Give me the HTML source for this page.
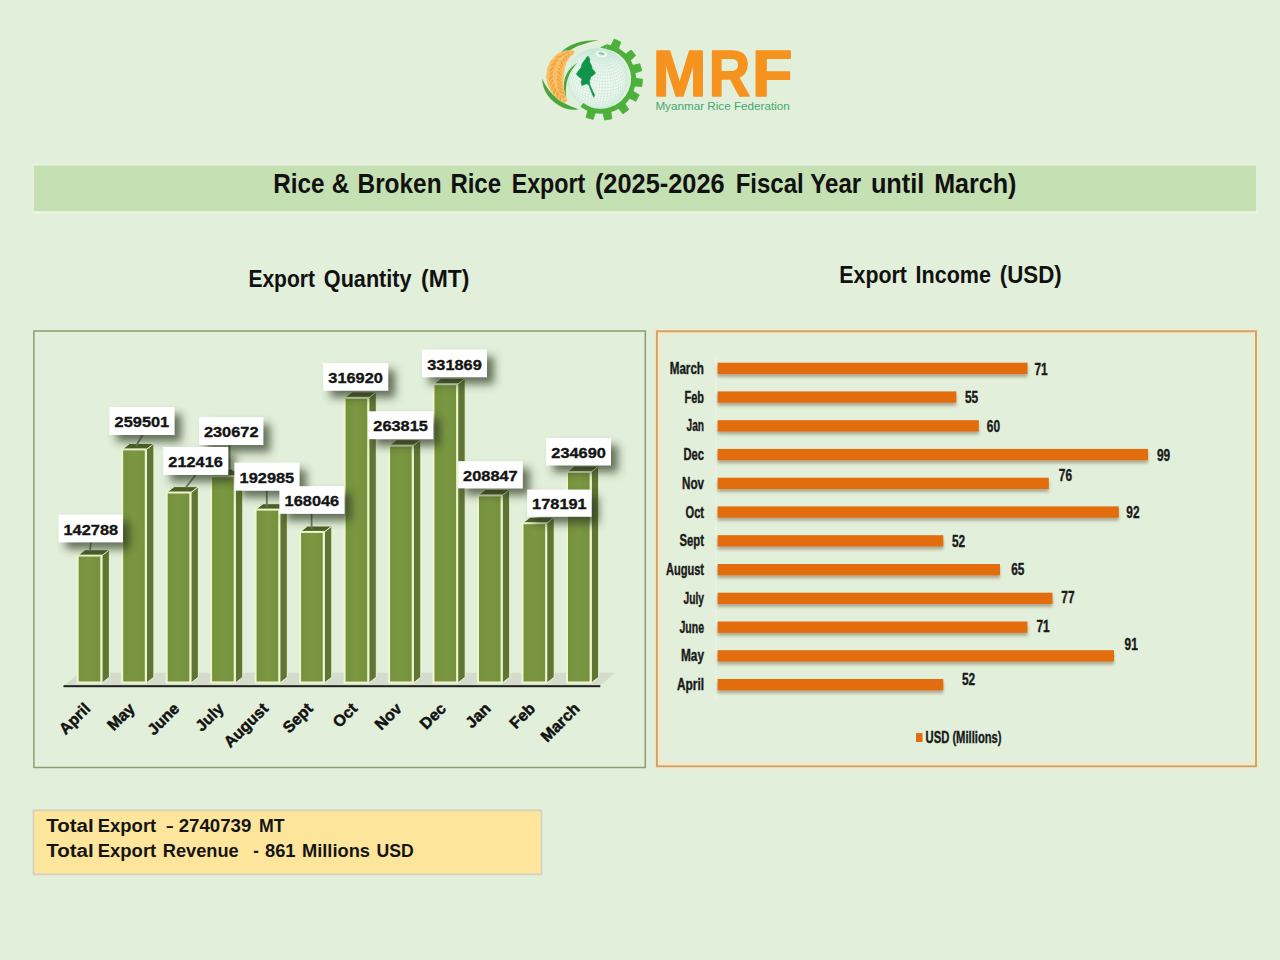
<!DOCTYPE html>
<html><head><meta charset="utf-8"><title>MRF Rice Export</title>
<style>
html,body{margin:0;padding:0;background:#e2efda;}
body{width:1280px;height:960px;overflow:hidden;font-family:"Liberation Sans",sans-serif;}
svg{display:block}
text{font-family:"Liberation Sans",sans-serif;}
</style></head><body>
<svg width="1280" height="960" viewBox="0 0 1280 960">
<defs>
<filter id="ls" x="-30%" y="-50%" width="170%" height="220%">
  <feGaussianBlur in="SourceAlpha" stdDeviation="4.1"/>
  <feOffset dx="7" dy="6.8" result="o"/>
  <feFlood flood-color="#2e3b22" flood-opacity="0.7"/>
  <feComposite in2="o" operator="in"/>
  <feMerge><feMergeNode/><feMergeNode in="SourceGraphic"/></feMerge>
</filter>
<filter id="bs" x="-5%" y="-80%" width="110%" height="300%">
  <feGaussianBlur in="SourceAlpha" stdDeviation="1.6"/>
  <feOffset dx="0" dy="2.5" result="o"/>
  <feFlood flood-color="#6b5a3a" flood-opacity="0.45"/>
  <feComposite in2="o" operator="in"/>
  <feMerge><feMergeNode/><feMergeNode in="SourceGraphic"/></feMerge>
</filter>
<filter id="fb" x="-2%" y="-20%" width="104%" height="140%"><feGaussianBlur stdDeviation="0.7"/></filter>
<filter id="glow" x="-5%" y="-5%" width="110%" height="110%">
  <feGaussianBlur stdDeviation="1.2"/>
</filter>
<linearGradient id="gf" x1="0" x2="1" y1="0" y2="0">
  <stop offset="0" stop-color="#75913b"/><stop offset="0.5" stop-color="#7c9742"/><stop offset="1" stop-color="#75913b"/>
</linearGradient>
<clipPath id="globeclip"><circle cx="598" cy="78.5" r="29.5"/></clipPath>
</defs>
<rect x="0" y="0" width="1280" height="960" fill="#e2efda"/>

<g id="logo">
<circle cx="597.5" cy="78.4" r="30.6" fill="#f3faf4"/>
<clipPath id="gc"><circle cx="597.5" cy="78.4" r="30.6"/></clipPath>
<g clip-path="url(#gc)" fill="none" stroke="#bfe2cf" stroke-width="0.5">
<polyline points="586.7,107.0 589.1,107.8 591.5,108.4 594.0,108.8 596.4,109.0 598.9,109.0"/>
<polyline points="581.2,104.3 583.5,105.5 585.9,106.6 588.6,107.5 591.3,108.1 594.2,108.6 597.0,108.8 599.8,108.8 602.5,108.5 605.0,108.1"/>
<polyline points="575.9,100.1 577.8,101.8 580.0,103.3 582.5,104.7 585.3,105.9 588.2,106.8 591.3,107.6 594.4,108.1 597.6,108.3 600.6,108.3 603.6,108.0 606.4,107.5 609.0,106.7 611.3,105.7"/>
<polyline points="572.9,96.6 574.6,98.5 576.6,100.4 579.0,102.0 581.8,103.5 584.7,104.8 587.9,105.9 591.3,106.7 594.7,107.2 598.1,107.5 601.5,107.5 604.7,107.2 607.8,106.6 610.6,105.7 613.1,104.6 615.3,103.3"/>
<polyline points="571.7,94.7 573.4,96.8 575.6,98.7 578.2,100.5 581.2,102.1 584.4,103.5 587.8,104.6 591.3,105.5 595.0,106.0 598.7,106.3 602.3,106.3 605.7,106.0 609.0,105.4 612.0,104.5 614.7,103.3 617.0,101.9"/>
<polyline points="569.4,90.3 570.7,92.6 572.6,94.8 574.9,96.8 577.6,98.7 580.7,100.4 584.1,101.9 587.7,103.1 591.5,104.0 595.3,104.6 599.2,104.9 603.0,104.8 606.7,104.5 610.1,103.9 613.3,102.9 616.1,101.7 618.6,100.2 620.6,98.5"/>
<polyline points="567.8,85.6 568.7,88.0 570.1,90.4 572.0,92.6 574.4,94.7 577.3,96.7 580.5,98.5 584.0,100.0 587.8,101.2 591.7,102.2 595.7,102.8 599.7,103.1 603.7,103.1 607.5,102.7 611.1,102.1 614.4,101.1 617.3,99.8 619.9,98.2 622.0,96.4 623.5,94.5"/>
<polyline points="567.4,83.1 568.3,85.6 569.7,88.0 571.7,90.3 574.2,92.5 577.1,94.5 580.4,96.3 584.0,97.9 587.9,99.2 591.9,100.1 596.1,100.8 600.2,101.1 604.3,101.1 608.2,100.7 611.9,100.0 615.3,99.0 618.3,97.7 620.9,96.1 623.1,94.2 624.7,92.2"/>
<polyline points="566.9,78.1 567.3,80.5 568.2,83.0 569.7,85.5 571.7,87.9 574.2,90.1 577.2,92.1 580.6,94.0 584.2,95.6 588.2,96.9 592.3,97.9 596.5,98.5 600.7,98.8 604.8,98.8 608.8,98.4 612.5,97.7 616.0,96.7 619.1,95.4 621.8,93.7 623.9,91.9 625.6,89.8 626.7,87.5"/>
<polyline points="567.2,75.5 567.5,77.9 568.4,80.5 570.0,82.9 572.0,85.3 574.5,87.5 577.5,89.6 580.9,91.5 584.6,93.1 588.5,94.4 592.7,95.4 596.9,96.0 601.1,96.4 605.3,96.3 609.3,96.0 613.0,95.2 616.5,94.2 619.6,92.8 622.3,91.2 624.5,89.3 626.2,87.2 627.3,85.0"/>
<polyline points="568.0,70.5 567.7,72.9 568.1,75.4 569.0,77.9 570.5,80.3 572.5,82.7 575.1,84.9 578.0,87.0 581.4,88.8 585.1,90.4 589.0,91.7 593.1,92.7 597.3,93.3 601.5,93.7 605.6,93.6 609.6,93.3 613.4,92.6 616.8,91.5 619.9,90.2 622.6,88.6 624.8,86.7 626.4,84.6 627.5,82.3 628.0,80.0"/>
<polyline points="569.7,65.7 568.9,68.0 568.6,70.4 569.0,72.8 569.9,75.3 571.4,77.7 573.4,80.0 575.8,82.2 578.8,84.2 582.1,86.0 585.7,87.6 589.5,88.9 593.6,89.8 597.7,90.5 601.8,90.8 605.9,90.8 609.8,90.4 613.5,89.7 616.9,88.7 620.0,87.4 622.6,85.8 624.7,83.9 626.4,81.9 627.4,79.7 628.0,77.3 627.9,74.9"/>
<polyline points="570.9,63.4 570.1,65.6 569.9,67.9 570.2,70.3 571.1,72.7 572.5,75.1 574.5,77.3 576.9,79.4 579.7,81.4 582.9,83.2 586.4,84.7 590.2,85.9 594.1,86.9 598.1,87.5 602.1,87.8 606.1,87.8 609.9,87.4 613.5,86.8 616.8,85.8 619.8,84.5 622.3,82.9 624.4,81.1 626.0,79.2 627.0,77.0 627.5,74.7 627.5,72.4"/>
<polyline points="573.6,59.3 572.3,61.3 571.6,63.4 571.4,65.6 571.7,67.9 572.6,70.2 573.9,72.5 575.8,74.6 578.1,76.7 580.8,78.6 583.9,80.3 587.3,81.7 590.9,82.9 594.7,83.8 598.5,84.4 602.4,84.7 606.2,84.7 609.8,84.4 613.3,83.7 616.5,82.8 619.3,81.5 621.8,80.0 623.8,78.3 625.3,76.4 626.3,74.3 626.8,72.1 626.7,69.9 626.1,67.6"/>
<polyline points="575.3,57.4 574.1,59.3 573.4,61.4 573.2,63.5 573.5,65.6 574.3,67.8 575.6,69.9 577.4,72.0 579.6,73.9 582.2,75.7 585.1,77.3 588.3,78.7 591.7,79.8 595.3,80.7 598.9,81.3 602.6,81.6 606.2,81.5 609.6,81.2 612.9,80.6 615.9,79.7 618.6,78.5 620.9,77.1 622.8,75.5 624.3,73.7 625.2,71.7 625.7,69.6 625.6,67.5 625.1,65.3"/>
<polyline points="578.8,54.2 577.2,55.8 576.1,57.6 575.4,59.5 575.3,61.5 575.5,63.5 576.3,65.5 577.5,67.5 579.2,69.4 581.2,71.2 583.6,72.9 586.4,74.4 589.4,75.7 592.5,76.8 595.9,77.6 599.3,78.1 602.7,78.4 606.1,78.4 609.3,78.0 612.4,77.5 615.2,76.6 617.7,75.5 619.9,74.2 621.6,72.7 623.0,71.0 623.9,69.2 624.3,67.2 624.3,65.2 623.7,63.2 622.8,61.2"/>
<polyline points="582.6,51.7 580.8,53.0 579.4,54.5 578.4,56.1 577.7,57.8 577.6,59.6 577.8,61.5 578.5,63.4 579.7,65.2 581.2,67.0 583.1,68.6 585.3,70.2 587.8,71.5 590.5,72.7 593.5,73.7 596.5,74.4 599.7,74.9 602.8,75.2 605.9,75.2 608.9,74.9 611.7,74.3 614.3,73.6 616.6,72.6 618.6,71.4 620.2,70.0 621.4,68.4 622.2,66.7 622.6,64.9 622.6,63.1 622.1,61.2 621.2,59.4 619.9,57.6"/>
<polyline points="588.8,49.1 586.6,49.9 584.7,50.9 583.0,52.0 581.7,53.4 580.8,54.8 580.3,56.4 580.1,58.0 580.3,59.7 581.0,61.4 582.0,63.0 583.3,64.6 585.0,66.1 587.0,67.5 589.3,68.7 591.8,69.8 594.4,70.7 597.2,71.3 600.0,71.8 602.8,72.0 605.6,72.0 608.3,71.7 610.8,71.3 613.1,70.6 615.2,69.7 617.0,68.6 618.5,67.3 619.6,65.9 620.3,64.4 620.7,62.8 620.6,61.1 620.2,59.5 619.4,57.8 618.2,56.2 616.7,54.6 614.8,53.2"/>
<polyline points="602.3,48.2 599.8,47.9 597.3,47.8 594.9,47.9 592.6,48.2 590.5,48.8 588.6,49.5 586.8,50.3 585.4,51.4 584.3,52.5 583.5,53.8 583.0,55.2 582.8,56.6 583.0,58.1 583.6,59.6 584.5,61.0 585.7,62.4 587.2,63.7 588.9,65.0 590.9,66.0 593.1,67.0 595.4,67.8 597.8,68.3 600.3,68.7 602.8,68.9 605.2,68.9 607.6,68.7 609.8,68.3 611.9,67.7 613.7,66.9 615.3,65.9 616.5,64.8 617.5,63.6 618.2,62.2 618.5,60.8 618.4,59.4 618.1,57.9 617.3,56.4 616.3,55.0 615.0,53.6 613.3,52.4 611.5,51.2 609.4,50.2 607.1,49.4 604.7,48.7 602.3,48.2"/>
<polyline points="602.3,48.3 600.2,48.0 598.1,48.0 596.0,48.1 594.1,48.3 592.2,48.8 590.6,49.4 589.1,50.1 587.9,51.0 586.9,52.0 586.3,53.1 585.8,54.3 585.7,55.5 585.9,56.7 586.4,58.0 587.1,59.2 588.1,60.4 589.4,61.5 590.9,62.6 592.6,63.5 594.4,64.3 596.4,64.9 598.5,65.4 600.6,65.8 602.7,65.9 604.8,65.9 606.8,65.7 608.7,65.4 610.4,64.9 612.0,64.2 613.3,63.4 614.4,62.4 615.2,61.4 615.8,60.2 616.0,59.0 616.0,57.8 615.7,56.6 615.1,55.3 614.2,54.1 613.0,52.9 611.7,51.9 610.1,50.9 608.3,50.0 606.4,49.3 604.4,48.7 602.3,48.3"/>
<polyline points="602.2,48.7 600.5,48.5 598.8,48.5 597.1,48.5 595.5,48.8 594.0,49.1 592.7,49.6 591.5,50.2 590.5,50.9 589.7,51.8 589.2,52.6 588.8,53.6 588.7,54.6 588.9,55.6 589.3,56.6 589.9,57.6 590.7,58.6 591.7,59.5 593.0,60.3 594.3,61.1 595.8,61.7 597.4,62.3 599.1,62.7 600.8,63.0 602.5,63.1 604.2,63.1 605.9,62.9 607.4,62.6 608.8,62.2 610.1,61.7 611.2,61.0 612.1,60.2 612.7,59.4 613.2,58.5 613.4,57.5 613.4,56.5 613.1,55.5 612.6,54.4 611.9,53.5 611.0,52.5 609.8,51.6 608.5,50.8 607.1,50.1 605.5,49.5 603.9,49.1 602.2,48.7"/>
<polyline points="602.1,49.5 600.8,49.3 599.5,49.3 598.2,49.4 597.0,49.5 595.9,49.8 594.9,50.2 594.0,50.6 593.2,51.2 592.6,51.8 592.2,52.5 591.9,53.2 591.9,53.9 592.0,54.7 592.3,55.5 592.7,56.3 593.3,57.0 594.1,57.7 595.1,58.3 596.1,58.9 597.2,59.4 598.5,59.8 599.7,60.1 601.0,60.3 602.3,60.4 603.6,60.4 604.9,60.3 606.0,60.1 607.1,59.7 608.1,59.3 608.9,58.8 609.6,58.2 610.1,57.6 610.4,56.9 610.6,56.1 610.6,55.4 610.4,54.6 610.0,53.8 609.4,53.1 608.7,52.4 607.9,51.7 606.9,51.1 605.8,50.6 604.6,50.1 603.4,49.8 602.1,49.5"/>
<polyline points="601.9,50.6 601.0,50.5 600.2,50.4 599.3,50.5 598.5,50.6 597.7,50.8 597.0,51.0 596.4,51.3 595.9,51.7 595.5,52.1 595.2,52.6 595.1,53.1 595.0,53.6 595.1,54.1 595.3,54.6 595.6,55.1 596.0,55.6 596.6,56.1 597.2,56.5 597.9,56.9 598.6,57.2 599.5,57.5 600.3,57.7 601.2,57.8 602.1,57.9 602.9,57.9 603.8,57.8 604.6,57.7 605.3,57.5 605.9,57.2 606.5,56.8 606.9,56.5 607.3,56.0 607.5,55.6 607.6,55.1 607.6,54.5 607.5,54.0 607.2,53.5 606.9,53.0 606.4,52.5 605.8,52.1 605.1,51.7 604.4,51.3 603.6,51.0 602.8,50.8 601.9,50.6"/>
<polyline points="601.7,52.0 601.2,51.9 600.8,51.9 600.4,51.9 600.0,52.0 599.6,52.1 599.2,52.2 598.9,52.4 598.7,52.5 598.5,52.7 598.3,53.0 598.3,53.2 598.2,53.5 598.3,53.7 598.4,54.0 598.5,54.3 598.7,54.5 599.0,54.7 599.3,55.0 599.7,55.1 600.0,55.3 600.5,55.4 600.9,55.6 601.3,55.6 601.8,55.7 602.2,55.7 602.6,55.6 603.0,55.5 603.4,55.4 603.7,55.3 604.0,55.1 604.2,54.9 604.4,54.7 604.5,54.5 604.6,54.2 604.6,54.0 604.5,53.7 604.4,53.4 604.2,53.2 603.9,52.9 603.7,52.7 603.3,52.5 602.9,52.3 602.5,52.2 602.1,52.1 601.7,52.0"/>
<polyline points="602.3,48.2 602.3,48.4 602.1,49.2 601.9,50.6"/>
<polyline points="600.4,47.9 600.8,48.2 601.0,49.1 601.2,50.5"/>
<polyline points="598.6,47.8 599.3,48.1 600.0,49.0 600.6,50.5"/>
<polyline points="596.7,47.8 597.8,48.1 598.9,49.0 599.9,50.4"/>
<polyline points="594.9,47.9 596.4,48.2 597.8,49.1 599.3,50.5"/>
<polyline points="593.2,48.1 595.0,48.4 596.8,49.2 598.7,50.6"/>
<polyline points="591.5,48.5 593.7,48.6 595.9,49.4 598.1,50.7"/>
<polyline points="587.7,49.4 590.0,48.9 592.4,49.0 595.0,49.6 597.6,50.8"/>
<polyline points="586.0,50.1 588.6,49.5 591.3,49.4 594.1,50.0 597.0,51.0"/>
<polyline points="584.5,50.8 587.2,50.1 590.2,49.9 593.4,50.3 596.6,51.3"/>
<polyline points="580.4,53.1 583.1,51.7 586.1,50.8 589.3,50.5 592.7,50.8 596.2,51.5"/>
<polyline points="576.5,56.1 579.0,54.2 581.9,52.7 585.1,51.7 588.5,51.2 592.1,51.2 595.8,51.8"/>
<polyline points="573.1,59.9 575.3,57.4 577.9,55.3 580.9,53.7 584.3,52.5 587.9,51.9 591.6,51.7 595.5,52.1"/>
<polyline points="572.1,61.4 574.4,58.8 577.1,56.6 580.2,54.8 583.6,53.5 587.4,52.7 591.3,52.3 595.3,52.5"/>
<polyline points="569.6,66.0 571.4,63.0 573.7,60.3 576.5,58.0 579.6,56.0 583.2,54.5 587.0,53.5 591.0,52.9 595.1,52.8"/>
<polyline points="567.9,71.1 569.1,67.8 570.9,64.7 573.3,61.9 576.1,59.4 579.3,57.3 582.9,55.6 586.8,54.3 590.8,53.5 595.1,53.2"/>
<polyline points="566.9,79.8 567.0,76.3 567.7,72.9 569.0,69.5 570.8,66.4 573.2,63.5 576.0,60.8 579.2,58.5 582.8,56.6 586.7,55.2 590.8,54.1 595.0,53.6"/>
<polyline points="567.6,85.0 567.1,81.6 567.2,78.2 567.9,74.7 569.2,71.4 571.0,68.1 573.4,65.1 576.2,62.3 579.4,59.8 583.0,57.7 586.8,56.0 590.9,54.8 595.1,54.0"/>
<polyline points="568.1,86.8 567.7,83.5 567.8,80.1 568.5,76.6 569.7,73.2 571.5,69.9 573.8,66.7 576.6,63.8 579.8,61.1 583.3,58.8 587.1,56.9 591.1,55.4 595.2,54.4"/>
<polyline points="570.0,91.7 569.0,88.6 568.5,85.3 568.7,81.9 569.3,78.5 570.6,75.0 572.3,71.6 574.6,68.3 577.3,65.3 580.4,62.5 583.8,59.9 587.5,57.8 591.4,56.1 595.4,54.7"/>
<polyline points="572.5,96.0 571.0,93.3 570.1,90.4 569.7,87.2 569.8,83.8 570.5,80.3 571.7,76.8 573.4,73.3 575.6,69.9 578.2,66.7 581.2,63.7 584.5,61.0 588.0,58.7 591.8,56.7 595.6,55.1"/>
<polyline points="573.7,97.5 572.4,94.9 571.5,92.1 571.2,88.9 571.3,85.6 572.0,82.1 573.2,78.5 574.8,75.0 576.9,71.5 579.4,68.1 582.2,65.0 585.4,62.1 588.7,59.5 592.3,57.3 595.9,55.5"/>
<polyline points="576.8,100.9 575.2,98.9 573.9,96.5 573.2,93.7 572.9,90.6 573.1,87.3 573.7,83.8 574.9,80.2 576.4,76.6 578.4,73.0 580.8,69.5 583.4,66.2 586.4,63.1 589.6,60.3 592.9,57.9 596.3,55.9"/>
<polyline points="578.3,102.2 576.8,100.3 575.8,98.0 575.1,95.3 574.9,92.2 575.1,88.9 575.8,85.4 576.8,81.8 578.3,78.1 580.2,74.4 582.4,70.8 584.9,67.3 587.6,64.1 590.5,61.1 593.6,58.4 596.7,56.2"/>
<polyline points="581.6,104.6 580.0,103.3 578.7,101.5 577.8,99.3 577.3,96.7 577.1,93.7 577.4,90.5 578.0,87.0 579.1,83.3 580.4,79.5 582.2,75.7 584.2,72.0 586.4,68.4 588.9,65.0 591.6,61.8 594.3,59.0 597.2,56.5"/>
<polyline points="583.3,105.5 581.9,104.3 580.8,102.7 580.1,100.6 579.7,98.1 579.6,95.1 579.9,91.9 580.5,88.4 581.5,84.7 582.8,80.8 584.3,77.0 586.1,73.1 588.2,69.4 590.4,65.8 592.8,62.5 595.2,59.5 597.7,56.8"/>
<polyline points="585.0,106.3 583.9,105.3 583.0,103.8 582.5,101.7 582.2,99.3 582.2,96.4 582.6,93.1 583.2,89.6 584.1,85.9 585.2,82.0 586.6,78.1 588.3,74.1 590.0,70.2 592.0,66.5 594.0,63.1 596.1,59.9 598.3,57.1"/>
<polyline points="586.8,107.0 586.0,106.1 585.4,104.7 585.0,102.7 584.9,100.3 585.0,97.5 585.4,94.3 586.0,90.7 586.9,87.0 587.9,83.0 589.1,79.0 590.5,75.0 592.0,71.0 593.6,67.2 595.4,63.6 597.1,60.3 598.9,57.3"/>
<polyline points="588.7,107.6 588.2,106.8 587.9,105.5 587.7,103.6 587.8,101.2 588.0,98.4 588.4,95.2 589.0,91.7 589.7,87.9 590.7,83.9 591.7,79.8 592.8,75.7 594.1,71.7 595.4,67.8 596.8,64.0 598.1,60.6 599.5,57.5"/>
<polyline points="590.7,108.1 590.5,107.4 590.4,106.1 590.5,104.3 590.7,102.0 591.0,99.2 591.5,96.0 592.1,92.5 592.7,88.7 593.5,84.6 594.4,80.5 595.3,76.3 596.2,72.2 597.2,68.2 598.2,64.4 599.2,60.9 600.1,57.7"/>
<polyline points="592.7,108.5 592.8,107.8 593.0,106.6 593.3,104.8 593.7,102.5 594.1,99.8 594.6,96.6 595.2,93.1 595.8,89.2 596.4,85.2 597.1,81.0 597.8,76.8 598.4,72.6 599.1,68.6 599.7,64.7 600.2,61.1 600.8,57.8"/>
<polyline points="594.8,108.8 595.2,108.1 595.7,107.0 596.2,105.2 596.7,102.9 597.2,100.2 597.8,97.0 598.3,93.5 598.9,89.6 599.4,85.6 599.8,81.4 600.3,77.1 600.6,72.9 600.9,68.8 601.2,64.9 601.3,61.2 601.4,57.9"/>
<polyline points="596.8,108.9 597.6,108.3 598.3,107.1 599.0,105.4 599.7,103.1 600.4,100.4 601.0,97.2 601.5,93.7 601.9,89.8 602.3,85.8 602.6,81.6 602.7,77.3 602.8,73.1 602.8,68.9 602.7,65.0 602.4,61.3 602.1,57.9"/>
<polyline points="598.8,108.9 599.9,108.3 600.9,107.1 601.8,105.4 602.7,103.1 603.4,100.4 604.1,97.2 604.6,93.7 605.0,89.8 605.2,85.8 605.3,81.6 605.2,77.3 605.0,73.1 604.6,68.9 604.1,65.0 603.5,61.3 602.7,57.9"/>
<polyline points="600.8,108.8 602.1,108.2 603.4,107.0 604.6,105.2 605.6,103.0 606.5,100.2 607.1,97.0 607.6,93.5 607.9,89.7 608.0,85.6 607.9,81.4 607.6,77.2 607.1,72.9 606.4,68.8 605.6,64.9 604.5,61.2 603.4,57.9"/>
<polyline points="602.7,108.6 604.3,107.9 605.9,106.7 607.2,104.9 608.4,102.6 609.4,99.8 610.1,96.7 610.6,93.1 610.8,89.3 610.8,85.3 610.5,81.1 609.9,76.9 609.2,72.7 608.2,68.6 606.9,64.7 605.5,61.1 604.0,57.8"/>
<polyline points="604.5,108.2 606.4,107.5 608.2,106.2 609.8,104.4 611.1,102.1 612.1,99.3 612.9,96.1 613.4,92.6 613.5,88.7 613.4,84.7 612.9,80.6 612.2,76.4 611.1,72.3 609.8,68.3 608.3,64.4 606.5,60.9 604.6,57.7"/>
<polyline points="608.4,106.9 610.4,105.6 612.1,103.7 613.6,101.3 614.7,98.5 615.5,95.3 616.0,91.8 616.1,88.0 615.8,84.0 615.2,80.0 614.2,75.8 613.0,71.8 611.4,67.8 609.5,64.1 607.4,60.6 605.1,57.5"/>
<polyline points="610.2,106.2 612.4,104.8 614.3,102.9 615.9,100.5 617.1,97.6 618.0,94.4 618.4,90.9 618.5,87.1 618.1,83.2 617.3,79.1 616.2,75.1 614.6,71.1 612.8,67.3 610.6,63.7 608.2,60.3 605.6,57.3"/>
<polyline points="614.2,103.9 616.3,101.9 618.0,99.4 619.3,96.5 620.2,93.3 620.6,89.8 620.6,86.1 620.1,82.2 619.2,78.2 617.9,74.2 616.2,70.4 614.1,66.6 611.7,63.1 609.0,59.9 606.1,57.1"/>
<polyline points="615.9,102.9 618.1,100.8 619.9,98.2 621.2,95.3 622.1,92.1 622.6,88.6 622.5,84.8 622.0,81.0 620.9,77.1 619.5,73.3 617.5,69.5 615.3,65.9 612.6,62.6 609.7,59.5 606.5,56.8"/>
<polyline points="619.6,99.5 621.5,96.9 622.9,93.9 623.8,90.7 624.3,87.2 624.2,83.5 623.5,79.7 622.4,75.9 620.8,72.2 618.7,68.5 616.2,65.1 613.4,61.9 610.2,59.0 606.8,56.6"/>
<polyline points="622.8,95.5 624.3,92.5 625.2,89.2 625.7,85.7 625.5,82.0 624.8,78.3 623.6,74.6 621.9,71.0 619.7,67.5 617.1,64.2 614.1,61.2 610.7,58.5 607.1,56.2"/>
<polyline points="623.9,93.9 625.4,90.9 626.3,87.5 626.7,84.1 626.6,80.5 625.8,76.8 624.6,73.2 622.8,69.7 620.5,66.3 617.7,63.2 614.6,60.4 611.1,58.0 607.4,55.9"/>
<polyline points="626.1,89.2 627.1,85.8 627.5,82.3 627.3,78.8 626.6,75.2 625.2,71.7 623.4,68.3 621.0,65.2 618.2,62.2 614.9,59.6 611.4,57.4 607.5,55.6"/>
<polyline points="628.0,80.6 627.8,77.1 627.0,73.6 625.6,70.2 623.7,66.9 621.3,63.9 618.4,61.2 615.2,58.8 611.5,56.8 607.6,55.2"/>
<polyline points="627.9,75.3 627.1,71.9 625.7,68.6 623.8,65.5 621.4,62.6 618.5,60.1 615.2,57.9 611.6,56.1 607.6,54.8"/>
<polyline points="626.9,70.1 625.6,67.0 623.7,64.0 621.3,61.3 618.4,59.0 615.1,57.0 611.5,55.5 607.6,54.4"/>
<polyline points="626.4,68.4 625.1,65.3 623.2,62.5 620.9,60.0 618.1,57.9 614.9,56.2 611.3,54.9 607.5,54.0"/>
<polyline points="624.3,63.7 622.6,61.0 620.3,58.7 617.6,56.8 614.4,55.3 611.0,54.2 607.3,53.6"/>
<polyline points="621.6,59.6 619.5,57.4 616.9,55.7 613.9,54.4 610.6,53.6 607.1,53.2"/>
<polyline points="618.4,56.2 616.0,54.7 613.2,53.6 610.1,53.0 606.8,52.9"/>
<polyline points="617.2,55.0 615.0,53.6 612.4,52.8 609.5,52.4 606.4,52.5"/>
<polyline points="615.8,53.9 613.8,52.7 611.4,52.0 608.8,51.8 606.0,52.2"/>
<polyline points="612.4,51.8 610.3,51.3 608.0,51.3 605.5,51.9"/>
<polyline points="611.0,51.0 609.2,50.6 607.2,50.8 605.0,51.6"/>
<polyline points="609.4,50.2 607.9,50.0 606.2,50.4 604.4,51.3"/>
<polyline points="607.7,49.5 606.6,49.5 605.3,50.0 603.8,51.1"/>
<polyline points="605.9,49.0 605.2,49.0 604.3,49.7 603.2,50.9"/>
<polyline points="604.1,48.5 603.7,48.7 603.2,49.4 602.6,50.7"/>
</g>
<ellipse cx="601.6" cy="53.6" rx="3.0" ry="1.1" fill="#86c3a6" transform="rotate(12 601.6 53.6)"/>
<circle cx="597.5" cy="78.4" r="30.6" fill="none" stroke="#d8f3df" stroke-width="1"/>
<path d="M606.64,46.59 A32.5,32.5 0 1 1 581.90,104.89" fill="none" stroke="#4db03c" stroke-width="4.9"/>
<polygon points="606.2,48.9 607.1,43.9 599.9,47.6" fill="#4db03c"/>
<polygon points="611.0,45.6 614.2,39.1 620.8,42.0 618.3,48.8" fill="#4db03c" stroke="#4db03c" stroke-width="0.8" stroke-linejoin="round"/>
<polygon points="625.4,54.2 631.2,50.0 635.7,55.6 630.3,60.4" fill="#4db03c" stroke="#4db03c" stroke-width="0.8" stroke-linejoin="round"/>
<polygon points="632.9,65.3 639.8,63.7 641.8,70.7 635.0,73.0" fill="#4db03c" stroke="#4db03c" stroke-width="0.8" stroke-linejoin="round"/>
<polygon points="635.5,78.2 642.6,79.3 641.8,86.5 634.7,86.1" fill="#4db03c" stroke="#4db03c" stroke-width="0.8" stroke-linejoin="round"/>
<polygon points="633.1,91.2 639.3,94.9 635.9,101.3 629.4,98.2" fill="#4db03c" stroke="#4db03c" stroke-width="0.8" stroke-linejoin="round"/>
<polygon points="624.8,103.6 628.8,109.5 623.0,113.9 618.5,108.4" fill="#4db03c" stroke="#4db03c" stroke-width="0.8" stroke-linejoin="round"/>
<polygon points="610.9,111.7 611.8,118.8 604.6,120.0 603.0,113.0" fill="#4db03c" stroke="#4db03c" stroke-width="0.8" stroke-linejoin="round"/>
<polygon points="595.4,112.6 593.1,119.4 586.1,117.4 587.7,110.5" fill="#4db03c" stroke="#4db03c" stroke-width="0.8" stroke-linejoin="round"/>
<path d="M598.5,40.3 Q573,39.6 560,53.2 L563.2,55.2 Q577,43.6 598.5,40.3 Z" fill="#4aa63a"/>
<path d="M542.2,78.6 Q542.5,97.5 563,107.8 Q571,110.8 578.5,109.2 Q567,105.5 558.5,99.5 Q547,91 542.2,78.6 Z" fill="#4aa63a"/>
<path d="M577.8,62.4 Q557.5,75 566.6,100.2 Q562.8,77.5 577.8,62.4 Z" fill="#4aa63a"/>
<polygon points="574.6,51.5 565.7,50.9 557.3,54.1 551.1,60.7 547.6,68.7 546.7,77.0 548.3,85.0 552.1,92.3 557.9,98.3 565.6,101.8 565.6,101.8 564.1,94.1 563.1,87.7 562.9,82.0 563.1,77.0 563.6,72.3 564.5,67.3 565.9,62.5 569.1,57.5 574.6,51.5" fill="#f7bd66" stroke="#f7bd66" stroke-width="1" stroke-linejoin="round"/>
<ellipse cx="572.3" cy="53.3" rx="2.4" ry="1.1" fill="#f4a63c" stroke="#fbd595" stroke-width="0.5" transform="rotate(307.4 572.3 53.3)"/>
<ellipse cx="571.7" cy="51.7" rx="2.4" ry="1.1" fill="#f4a63c" stroke="#fbd595" stroke-width="0.5" transform="rotate(371.4 571.7 51.7)"/>
<ellipse cx="568.5" cy="55.7" rx="3.2" ry="1.5" fill="#f4a63c" stroke="#fbd595" stroke-width="0.5" transform="rotate(300.4 568.5 55.7)"/>
<ellipse cx="566.9" cy="52.5" rx="3.2" ry="1.5" fill="#f4a63c" stroke="#fbd595" stroke-width="0.5" transform="rotate(364.4 566.9 52.5)"/>
<ellipse cx="566.0" cy="58.3" rx="3.9" ry="1.8" fill="#f4a63c" stroke="#fbd595" stroke-width="0.5" transform="rotate(282.4 566.0 58.3)"/>
<ellipse cx="562.3" cy="54.7" rx="3.9" ry="1.8" fill="#f4a63c" stroke="#fbd595" stroke-width="0.5" transform="rotate(346.4 562.3 54.7)"/>
<ellipse cx="563.2" cy="61.4" rx="4.2" ry="1.9" fill="#f4a63c" stroke="#fbd595" stroke-width="0.5" transform="rotate(282.4 563.2 61.4)"/>
<ellipse cx="558.8" cy="57.0" rx="4.2" ry="1.9" fill="#f4a63c" stroke="#fbd595" stroke-width="0.5" transform="rotate(346.4 558.8 57.0)"/>
<ellipse cx="561.9" cy="64.2" rx="4.2" ry="1.9" fill="#f4a63c" stroke="#fbd595" stroke-width="0.5" transform="rotate(264.2 561.9 64.2)"/>
<ellipse cx="555.5" cy="61.1" rx="4.2" ry="1.9" fill="#f4a63c" stroke="#fbd595" stroke-width="0.5" transform="rotate(328.2 555.5 61.1)"/>
<ellipse cx="560.5" cy="68.1" rx="4.2" ry="1.9" fill="#f4a63c" stroke="#fbd595" stroke-width="0.5" transform="rotate(264.2 560.5 68.1)"/>
<ellipse cx="553.5" cy="64.6" rx="4.2" ry="1.9" fill="#f4a63c" stroke="#fbd595" stroke-width="0.5" transform="rotate(328.2 553.5 64.6)"/>
<ellipse cx="559.7" cy="71.1" rx="4.2" ry="1.9" fill="#f4a63c" stroke="#fbd595" stroke-width="0.5" transform="rotate(250.6 559.7 71.1)"/>
<ellipse cx="551.7" cy="69.3" rx="4.2" ry="1.9" fill="#f4a63c" stroke="#fbd595" stroke-width="0.5" transform="rotate(314.6 551.7 69.3)"/>
<ellipse cx="559.4" cy="74.1" rx="4.2" ry="1.9" fill="#f4a63c" stroke="#fbd595" stroke-width="0.5" transform="rotate(238.0 559.4 74.1)"/>
<ellipse cx="551.1" cy="74.1" rx="4.2" ry="1.9" fill="#f4a63c" stroke="#fbd595" stroke-width="0.5" transform="rotate(302.0 551.1 74.1)"/>
<ellipse cx="559.1" cy="78.0" rx="4.2" ry="1.9" fill="#f4a63c" stroke="#fbd595" stroke-width="0.5" transform="rotate(238.0 559.1 78.0)"/>
<ellipse cx="550.9" cy="78.0" rx="4.2" ry="1.9" fill="#f4a63c" stroke="#fbd595" stroke-width="0.5" transform="rotate(302.0 550.9 78.0)"/>
<ellipse cx="559.2" cy="81.2" rx="4.2" ry="1.9" fill="#f4a63c" stroke="#fbd595" stroke-width="0.5" transform="rotate(226.3 559.2 81.2)"/>
<ellipse cx="551.7" cy="82.7" rx="4.2" ry="1.9" fill="#f4a63c" stroke="#fbd595" stroke-width="0.5" transform="rotate(290.3 551.7 82.7)"/>
<ellipse cx="559.7" cy="85.1" rx="4.2" ry="1.9" fill="#f4a63c" stroke="#fbd595" stroke-width="0.5" transform="rotate(226.3 559.7 85.1)"/>
<ellipse cx="552.9" cy="86.6" rx="4.2" ry="1.9" fill="#f4a63c" stroke="#fbd595" stroke-width="0.5" transform="rotate(290.3 552.9 86.6)"/>
<ellipse cx="560.3" cy="88.6" rx="4.2" ry="1.9" fill="#f4a63c" stroke="#fbd595" stroke-width="0.5" transform="rotate(215.0 560.3 88.6)"/>
<ellipse cx="554.7" cy="90.9" rx="4.2" ry="1.9" fill="#f4a63c" stroke="#fbd595" stroke-width="0.5" transform="rotate(279.0 554.7 90.9)"/>
<ellipse cx="561.5" cy="92.1" rx="3.8" ry="1.8" fill="#f4a63c" stroke="#fbd595" stroke-width="0.5" transform="rotate(203.9 561.5 92.1)"/>
<ellipse cx="557.5" cy="94.8" rx="3.8" ry="1.8" fill="#f4a63c" stroke="#fbd595" stroke-width="0.5" transform="rotate(267.9 557.5 94.8)"/>
<ellipse cx="563.1" cy="96.2" rx="3.1" ry="1.5" fill="#f4a63c" stroke="#fbd595" stroke-width="0.5" transform="rotate(203.9 563.1 96.2)"/>
<ellipse cx="560.4" cy="98.0" rx="3.1" ry="1.5" fill="#f4a63c" stroke="#fbd595" stroke-width="0.5" transform="rotate(267.9 560.4 98.0)"/>
<ellipse cx="565.0" cy="100.0" rx="2.2" ry="1.1" fill="#f4a63c" stroke="#fbd595" stroke-width="0.5" transform="rotate(198.6 565.0 100.0)"/>
<ellipse cx="564.0" cy="100.9" rx="2.2" ry="1.1" fill="#f4a63c" stroke="#fbd595" stroke-width="0.5" transform="rotate(262.6 564.0 100.9)"/>
<polygon points="588.1,56.3 589.9,58.9 589.5,62.1 591.3,65.0 592.3,68.7 595.6,72.9 593.2,75.3 590.9,76.7 589.5,80.9 589.9,84.7 591.8,89.3 594.6,95.0 593.7,97.3 592.3,94.0 590.4,89.3 589.0,85.1 586.7,83.7 582.0,85.6 581.0,82.8 582.0,79.0 578.2,76.2 576.3,73.9 578.7,70.6 581.0,67.8 582.0,64.0 583.8,61.2 585.7,58.9 586.7,57.0" fill="#0f9449" stroke="#0f9449" stroke-width="0.6" stroke-linejoin="round"/>
<text x="652.70" y="96.1" font-size="64.5" font-weight="bold" fill="#f6931f" stroke="#f6931f" stroke-width="1.6" stroke-linejoin="round" textLength="53.7" lengthAdjust="spacingAndGlyphs">M</text>
<text x="708.85" y="96.1" font-size="64.5" font-weight="bold" fill="#f6931f" stroke="#f6931f" stroke-width="1.6" stroke-linejoin="round" textLength="41.5" lengthAdjust="spacingAndGlyphs">R</text>
<text x="751.95" y="96.1" font-size="64.5" font-weight="bold" fill="#f6931f" stroke="#f6931f" stroke-width="1.6" stroke-linejoin="round" textLength="40.6" lengthAdjust="spacingAndGlyphs">F</text>
<text x="655.4" y="109.6" font-size="11.2" fill="#46a870" textLength="134.4" lengthAdjust="spacingAndGlyphs">Myanmar Rice Federation</text>
</g>
<rect x="32.6" y="164.3" width="1224.8" height="49.2" fill="#ebf6e4"/>
<rect x="33.7" y="165.5" width="1222.6" height="45.8" fill="#c5e0b3"/>
<text x="273.13" y="193.2" font-size="28" font-weight="bold" fill="#111" textLength="51.37" lengthAdjust="spacingAndGlyphs">Rice</text>
<text x="331.63" y="193.2" font-size="28" font-weight="bold" fill="#111" textLength="17.56" lengthAdjust="spacingAndGlyphs">&amp;</text>
<text x="357.53" y="193.2" font-size="28" font-weight="bold" fill="#111" textLength="84.03" lengthAdjust="spacingAndGlyphs">Broken</text>
<text x="450.39" y="193.2" font-size="28" font-weight="bold" fill="#111" textLength="50.70" lengthAdjust="spacingAndGlyphs">Rice</text>
<text x="511.67" y="193.2" font-size="28" font-weight="bold" fill="#111" textLength="73.60" lengthAdjust="spacingAndGlyphs">Export</text>
<text x="594.89" y="193.2" font-size="28" font-weight="bold" fill="#111" textLength="129.83" lengthAdjust="spacingAndGlyphs">(2025-2026</text>
<text x="735.64" y="193.2" font-size="28" font-weight="bold" fill="#111" textLength="68.08" lengthAdjust="spacingAndGlyphs">Fiscal</text>
<text x="810.30" y="193.2" font-size="28" font-weight="bold" fill="#111" textLength="50.91" lengthAdjust="spacingAndGlyphs">Year</text>
<text x="870.89" y="193.2" font-size="28" font-weight="bold" fill="#111" textLength="53.52" lengthAdjust="spacingAndGlyphs">until</text>
<text x="934.20" y="193.2" font-size="28" font-weight="bold" fill="#111" textLength="82.28" lengthAdjust="spacingAndGlyphs">March)</text>
<text x="248.39" y="286.6" font-size="23" font-weight="bold" fill="#111" textLength="66.60" lengthAdjust="spacingAndGlyphs">Export</text>
<text x="323.80" y="286.6" font-size="23" font-weight="bold" fill="#111" textLength="87.80" lengthAdjust="spacingAndGlyphs">Quantity</text>
<text x="421.00" y="286.6" font-size="23" font-weight="bold" fill="#111" textLength="48.35" lengthAdjust="spacingAndGlyphs">(MT)</text>
<text x="839.37" y="283.0" font-size="23" font-weight="bold" fill="#111" textLength="67.61" lengthAdjust="spacingAndGlyphs">Export</text>
<text x="915.56" y="283.0" font-size="23" font-weight="bold" fill="#111" textLength="75.38" lengthAdjust="spacingAndGlyphs">Income</text>
<text x="999.83" y="283.0" font-size="23" font-weight="bold" fill="#111" textLength="61.91" lengthAdjust="spacingAndGlyphs">(USD)</text>
<rect x="33.9" y="331" width="611.4" height="436.5" fill="none" stroke="#8c9e72" stroke-width="1.5"/>
<polygon points="64,685.5 600,685.5 615.5,672.8 79.5,672.8" fill="#d4dccd" filter="url(#fb)"/>
<rect x="63.5" y="685.2" width="536.8" height="2" fill="#1d1f19"/>
<polygon points="101.9,555.6 109.4,549.7 109.4,677.2 101.9,683.1" fill="#5f7534" stroke="#edf6cf" stroke-width="1" stroke-linejoin="round"/>
<polygon points="77.7,555.6 101.9,555.6 109.4,549.7 85.2,549.7" fill="#4c6029" stroke="#edf6cf" stroke-width="1" stroke-linejoin="round"/>
<rect x="77.7" y="555.6" width="23.6" height="126.9" fill="url(#gf)" stroke="#edf6cf" stroke-width="2"/>
<polygon points="146.4,449.4 153.9,443.5 153.9,677.2 146.4,683.1" fill="#5f7534" stroke="#edf6cf" stroke-width="1" stroke-linejoin="round"/>
<polygon points="122.2,449.4 146.4,449.4 153.9,443.5 129.7,443.5" fill="#4c6029" stroke="#edf6cf" stroke-width="1" stroke-linejoin="round"/>
<rect x="122.2" y="449.4" width="23.6" height="233.1" fill="url(#gf)" stroke="#edf6cf" stroke-width="2"/>
<polygon points="190.9,492.5 198.4,486.6 198.4,677.2 190.9,683.1" fill="#5f7534" stroke="#edf6cf" stroke-width="1" stroke-linejoin="round"/>
<polygon points="166.7,492.5 190.9,492.5 198.4,486.6 174.2,486.6" fill="#4c6029" stroke="#edf6cf" stroke-width="1" stroke-linejoin="round"/>
<rect x="166.7" y="492.5" width="23.6" height="190.0" fill="url(#gf)" stroke="#edf6cf" stroke-width="2"/>
<polygon points="235.3,476.2 242.8,470.4 242.8,677.2 235.3,683.1" fill="#5f7534" stroke="#edf6cf" stroke-width="1" stroke-linejoin="round"/>
<polygon points="211.1,476.2 235.3,476.2 242.8,470.4 218.6,470.4" fill="#4c6029" stroke="#edf6cf" stroke-width="1" stroke-linejoin="round"/>
<rect x="211.1" y="476.2" width="23.6" height="206.2" fill="url(#gf)" stroke="#edf6cf" stroke-width="2"/>
<polygon points="279.8,509.6 287.3,503.7 287.3,677.2 279.8,683.1" fill="#5f7534" stroke="#edf6cf" stroke-width="1" stroke-linejoin="round"/>
<polygon points="255.6,509.6 279.8,509.6 287.3,503.7 263.1,503.7" fill="#4c6029" stroke="#edf6cf" stroke-width="1" stroke-linejoin="round"/>
<rect x="255.6" y="509.6" width="23.6" height="172.9" fill="url(#gf)" stroke="#edf6cf" stroke-width="2"/>
<polygon points="324.3,531.9 331.8,526.0 331.8,677.2 324.3,683.1" fill="#5f7534" stroke="#edf6cf" stroke-width="1" stroke-linejoin="round"/>
<polygon points="300.1,531.9 324.3,531.9 331.8,526.0 307.6,526.0" fill="#4c6029" stroke="#edf6cf" stroke-width="1" stroke-linejoin="round"/>
<rect x="300.1" y="531.9" width="23.6" height="150.6" fill="url(#gf)" stroke="#edf6cf" stroke-width="2"/>
<polygon points="368.8,397.8 376.3,391.9 376.3,677.2 368.8,683.1" fill="#5f7534" stroke="#edf6cf" stroke-width="1" stroke-linejoin="round"/>
<polygon points="344.6,397.8 368.8,397.8 376.3,391.9 352.1,391.9" fill="#4c6029" stroke="#edf6cf" stroke-width="1" stroke-linejoin="round"/>
<rect x="344.6" y="397.8" width="23.6" height="284.8" fill="url(#gf)" stroke="#edf6cf" stroke-width="2"/>
<polygon points="413.3,445.6 420.8,439.7 420.8,677.2 413.3,683.1" fill="#5f7534" stroke="#edf6cf" stroke-width="1" stroke-linejoin="round"/>
<polygon points="389.1,445.6 413.3,445.6 420.8,439.7 396.6,439.7" fill="#4c6029" stroke="#edf6cf" stroke-width="1" stroke-linejoin="round"/>
<rect x="389.1" y="445.6" width="23.6" height="236.9" fill="url(#gf)" stroke="#edf6cf" stroke-width="2"/>
<polygon points="457.7,384.2 465.2,378.3 465.2,677.2 457.7,683.1" fill="#5f7534" stroke="#edf6cf" stroke-width="1" stroke-linejoin="round"/>
<polygon points="433.5,384.2 457.7,384.2 465.2,378.3 441.0,378.3" fill="#4c6029" stroke="#edf6cf" stroke-width="1" stroke-linejoin="round"/>
<rect x="433.5" y="384.2" width="23.6" height="298.3" fill="url(#gf)" stroke="#edf6cf" stroke-width="2"/>
<polygon points="502.2,495.4 509.7,489.5 509.7,677.2 502.2,683.1" fill="#5f7534" stroke="#edf6cf" stroke-width="1" stroke-linejoin="round"/>
<polygon points="478.0,495.4 502.2,495.4 509.7,489.5 485.5,489.5" fill="#4c6029" stroke="#edf6cf" stroke-width="1" stroke-linejoin="round"/>
<rect x="478.0" y="495.4" width="23.6" height="187.1" fill="url(#gf)" stroke="#edf6cf" stroke-width="2"/>
<polygon points="546.7,523.2 554.2,517.3 554.2,677.2 546.7,683.1" fill="#5f7534" stroke="#edf6cf" stroke-width="1" stroke-linejoin="round"/>
<polygon points="522.5,523.2 546.7,523.2 554.2,517.3 530.0,517.3" fill="#4c6029" stroke="#edf6cf" stroke-width="1" stroke-linejoin="round"/>
<rect x="522.5" y="523.2" width="23.6" height="159.3" fill="url(#gf)" stroke="#edf6cf" stroke-width="2"/>
<polygon points="591.2,471.9 598.7,466.0 598.7,677.2 591.2,683.1" fill="#5f7534" stroke="#edf6cf" stroke-width="1" stroke-linejoin="round"/>
<polygon points="567.0,471.9 591.2,471.9 598.7,466.0 574.5,466.0" fill="#4c6029" stroke="#edf6cf" stroke-width="1" stroke-linejoin="round"/>
<rect x="567.0" y="471.9" width="23.6" height="210.6" fill="url(#gf)" stroke="#edf6cf" stroke-width="2"/>
<line x1="91.0" y1="542.0" x2="89.8" y2="551.5" stroke="#6f7866" stroke-width="1.8"/>
<line x1="142.6" y1="435.0" x2="136.0" y2="446.0" stroke="#6f7866" stroke-width="1.8"/>
<line x1="195.5" y1="475.0" x2="185.5" y2="488.0" stroke="#6f7866" stroke-width="1.8"/>
<line x1="229.6" y1="445.0" x2="229.6" y2="470.0" stroke="#6f7866" stroke-width="1.8"/>
<line x1="266.8" y1="490.6" x2="266.8" y2="506.5" stroke="#6f7866" stroke-width="1.8"/>
<line x1="311.6" y1="513.8" x2="311.6" y2="529.0" stroke="#6f7866" stroke-width="1.8"/>
<rect x="228.6" y="469.6" width="3.8" height="3.8" fill="#3d4a2a"/>
<g filter="url(#ls)"><rect x="58.6" y="514.6" width="64.4" height="27.6" fill="#ffffff"/></g>
<text x="90.8" y="534.6" font-size="15.5" font-weight="bold" fill="#141414" stroke="#141414" stroke-width="0.35" text-anchor="middle" textLength="54.6" lengthAdjust="spacingAndGlyphs">142788</text>
<g filter="url(#ls)"><rect x="109.4" y="407.1" width="65.0" height="27.9" fill="#ffffff"/></g>
<text x="141.9" y="427.2" font-size="15.5" font-weight="bold" fill="#141414" stroke="#141414" stroke-width="0.35" text-anchor="middle" textLength="54.6" lengthAdjust="spacingAndGlyphs">259501</text>
<g filter="url(#ls)"><rect x="199.2" y="417.2" width="64.0" height="27.8" fill="#ffffff"/></g>
<text x="231.2" y="437.3" font-size="15.5" font-weight="bold" fill="#141414" stroke="#141414" stroke-width="0.35" text-anchor="middle" textLength="54.6" lengthAdjust="spacingAndGlyphs">230672</text>
<g filter="url(#ls)"><rect x="163.2" y="447.0" width="64.9" height="27.9" fill="#ffffff"/></g>
<text x="195.6" y="467.1" font-size="15.5" font-weight="bold" fill="#141414" stroke="#141414" stroke-width="0.35" text-anchor="middle" textLength="54.6" lengthAdjust="spacingAndGlyphs">212416</text>
<g filter="url(#ls)"><rect x="234.4" y="462.6" width="65.0" height="28.0" fill="#ffffff"/></g>
<text x="266.9" y="482.8" font-size="15.5" font-weight="bold" fill="#141414" stroke="#141414" stroke-width="0.35" text-anchor="middle" textLength="54.6" lengthAdjust="spacingAndGlyphs">192985</text>
<g filter="url(#ls)"><rect x="279.4" y="486.2" width="65.0" height="27.6" fill="#ffffff"/></g>
<text x="311.9" y="506.2" font-size="15.5" font-weight="bold" fill="#141414" stroke="#141414" stroke-width="0.35" text-anchor="middle" textLength="54.6" lengthAdjust="spacingAndGlyphs">168046</text>
<g filter="url(#ls)"><rect x="323.1" y="363.0" width="65.0" height="27.6" fill="#ffffff"/></g>
<text x="355.6" y="383.0" font-size="15.5" font-weight="bold" fill="#141414" stroke="#141414" stroke-width="0.35" text-anchor="middle" textLength="54.6" lengthAdjust="spacingAndGlyphs">316920</text>
<g filter="url(#ls)"><rect x="368.0" y="411.3" width="65.2" height="27.8" fill="#ffffff"/></g>
<text x="400.6" y="431.4" font-size="15.5" font-weight="bold" fill="#141414" stroke="#141414" stroke-width="0.35" text-anchor="middle" textLength="54.6" lengthAdjust="spacingAndGlyphs">263815</text>
<g filter="url(#ls)"><rect x="422.0" y="349.6" width="65.0" height="27.5" fill="#ffffff"/></g>
<text x="454.5" y="369.6" font-size="15.5" font-weight="bold" fill="#141414" stroke="#141414" stroke-width="0.35" text-anchor="middle" textLength="54.6" lengthAdjust="spacingAndGlyphs">331869</text>
<g filter="url(#ls)"><rect x="458.1" y="461.2" width="64.6" height="27.1" fill="#ffffff"/></g>
<text x="490.4" y="480.9" font-size="15.5" font-weight="bold" fill="#141414" stroke="#141414" stroke-width="0.35" text-anchor="middle" textLength="54.6" lengthAdjust="spacingAndGlyphs">208847</text>
<g filter="url(#ls)"><rect x="546.1" y="438.2" width="64.9" height="27.1" fill="#ffffff"/></g>
<text x="578.6" y="457.9" font-size="15.5" font-weight="bold" fill="#141414" stroke="#141414" stroke-width="0.35" text-anchor="middle" textLength="54.6" lengthAdjust="spacingAndGlyphs">234690</text>
<g filter="url(#ls)"><rect x="527.2" y="489.6" width="64.3" height="27.1" fill="#ffffff"/></g>
<text x="559.4" y="509.4" font-size="15.5" font-weight="bold" fill="#141414" stroke="#141414" stroke-width="0.35" text-anchor="middle" textLength="54.6" lengthAdjust="spacingAndGlyphs">178191</text>
<text transform="translate(91.3,709.6) rotate(-45)" font-size="16" font-weight="bold" fill="#111" stroke="#111" stroke-width="0.45" text-anchor="end">April</text>
<text transform="translate(135.8,709.6) rotate(-45)" font-size="16" font-weight="bold" fill="#111" stroke="#111" stroke-width="0.45" text-anchor="end">May</text>
<text transform="translate(180.3,709.6) rotate(-45)" font-size="16" font-weight="bold" fill="#111" stroke="#111" stroke-width="0.45" text-anchor="end">June</text>
<text transform="translate(224.7,709.6) rotate(-45)" font-size="16" font-weight="bold" fill="#111" stroke="#111" stroke-width="0.45" text-anchor="end">July</text>
<text transform="translate(269.2,709.6) rotate(-45)" font-size="16" font-weight="bold" fill="#111" stroke="#111" stroke-width="0.45" text-anchor="end">August</text>
<text transform="translate(313.7,709.6) rotate(-45)" font-size="16" font-weight="bold" fill="#111" stroke="#111" stroke-width="0.45" text-anchor="end">Sept</text>
<text transform="translate(358.2,709.6) rotate(-45)" font-size="16" font-weight="bold" fill="#111" stroke="#111" stroke-width="0.45" text-anchor="end">Oct</text>
<text transform="translate(402.7,709.6) rotate(-45)" font-size="16" font-weight="bold" fill="#111" stroke="#111" stroke-width="0.45" text-anchor="end">Nov</text>
<text transform="translate(447.1,709.6) rotate(-45)" font-size="16" font-weight="bold" fill="#111" stroke="#111" stroke-width="0.45" text-anchor="end">Dec</text>
<text transform="translate(491.6,709.6) rotate(-45)" font-size="16" font-weight="bold" fill="#111" stroke="#111" stroke-width="0.45" text-anchor="end">Jan</text>
<text transform="translate(536.1,709.6) rotate(-45)" font-size="16" font-weight="bold" fill="#111" stroke="#111" stroke-width="0.45" text-anchor="end">Feb</text>
<text transform="translate(580.6,709.6) rotate(-45)" font-size="16" font-weight="bold" fill="#111" stroke="#111" stroke-width="0.45" text-anchor="end">March</text>
<rect x="657.5" y="331.8" width="598.1" height="434" fill="none" stroke="#fbe7c3" stroke-width="5.2" filter="url(#glow)"/>
<rect x="656.9" y="331.3" width="599.1" height="435" fill="none" stroke="#c9a46c" stroke-width="1.9"/>
<rect x="715.4" y="355" width="1" height="345" fill="#eef5ea"/>
<g filter="url(#bs)"><rect x="717.6" y="362.7" width="309.9" height="11.3" fill="#e36c0e"/></g>
<g filter="url(#bs)"><rect x="717.6" y="391.4" width="238.7" height="11.3" fill="#e36c0e"/></g>
<g filter="url(#bs)"><rect x="717.6" y="420.2" width="261.2" height="11.3" fill="#e36c0e"/></g>
<g filter="url(#bs)"><rect x="717.6" y="448.9" width="430.4" height="11.3" fill="#e36c0e"/></g>
<g filter="url(#bs)"><rect x="717.6" y="477.7" width="331.2" height="11.3" fill="#e36c0e"/></g>
<g filter="url(#bs)"><rect x="717.6" y="506.4" width="401.2" height="11.3" fill="#e36c0e"/></g>
<g filter="url(#bs)"><rect x="717.6" y="535.2" width="225.7" height="11.3" fill="#e36c0e"/></g>
<g filter="url(#bs)"><rect x="717.6" y="564.0" width="282.4" height="11.3" fill="#e36c0e"/></g>
<g filter="url(#bs)"><rect x="717.6" y="592.7" width="334.9" height="11.3" fill="#e36c0e"/></g>
<g filter="url(#bs)"><rect x="717.6" y="621.5" width="309.9" height="11.3" fill="#e36c0e"/></g>
<g filter="url(#bs)"><rect x="717.6" y="650.2" width="396.4" height="11.3" fill="#e36c0e"/></g>
<g filter="url(#bs)"><rect x="717.6" y="679.0" width="225.7" height="11.3" fill="#e36c0e"/></g>
<text x="704" y="373.9" font-size="15.6" font-weight="bold" fill="#1a1a1a" stroke="#1a1a1a" stroke-width="0.4" text-anchor="end" textLength="34.3" lengthAdjust="spacingAndGlyphs">March</text>
<text x="704" y="402.6" font-size="15.6" font-weight="bold" fill="#1a1a1a" stroke="#1a1a1a" stroke-width="0.4" text-anchor="end" textLength="19.5" lengthAdjust="spacingAndGlyphs">Feb</text>
<text x="704" y="431.4" font-size="15.6" font-weight="bold" fill="#1a1a1a" stroke="#1a1a1a" stroke-width="0.4" text-anchor="end" textLength="17.5" lengthAdjust="spacingAndGlyphs">Jan</text>
<text x="704" y="460.1" font-size="15.6" font-weight="bold" fill="#1a1a1a" stroke="#1a1a1a" stroke-width="0.4" text-anchor="end" textLength="20.5" lengthAdjust="spacingAndGlyphs">Dec</text>
<text x="704" y="488.9" font-size="15.6" font-weight="bold" fill="#1a1a1a" stroke="#1a1a1a" stroke-width="0.4" text-anchor="end" textLength="22.0" lengthAdjust="spacingAndGlyphs">Nov</text>
<text x="704" y="517.6" font-size="15.6" font-weight="bold" fill="#1a1a1a" stroke="#1a1a1a" stroke-width="0.4" text-anchor="end" textLength="18.5" lengthAdjust="spacingAndGlyphs">Oct</text>
<text x="704" y="546.4" font-size="15.6" font-weight="bold" fill="#1a1a1a" stroke="#1a1a1a" stroke-width="0.4" text-anchor="end" textLength="24.5" lengthAdjust="spacingAndGlyphs">Sept</text>
<text x="704" y="575.1" font-size="15.6" font-weight="bold" fill="#1a1a1a" stroke="#1a1a1a" stroke-width="0.4" text-anchor="end" textLength="38.0" lengthAdjust="spacingAndGlyphs">August</text>
<text x="704" y="603.9" font-size="15.6" font-weight="bold" fill="#1a1a1a" stroke="#1a1a1a" stroke-width="0.4" text-anchor="end" textLength="20.5" lengthAdjust="spacingAndGlyphs">July</text>
<text x="704" y="632.6" font-size="15.6" font-weight="bold" fill="#1a1a1a" stroke="#1a1a1a" stroke-width="0.4" text-anchor="end" textLength="24.5" lengthAdjust="spacingAndGlyphs">June</text>
<text x="704" y="661.4" font-size="15.6" font-weight="bold" fill="#1a1a1a" stroke="#1a1a1a" stroke-width="0.4" text-anchor="end" textLength="23.0" lengthAdjust="spacingAndGlyphs">May</text>
<text x="704" y="690.1" font-size="15.6" font-weight="bold" fill="#1a1a1a" stroke="#1a1a1a" stroke-width="0.4" text-anchor="end" textLength="27.0" lengthAdjust="spacingAndGlyphs">April</text>
<text x="1034.5" y="375.0" font-size="16.5" font-weight="bold" fill="#1a1a1a" stroke="#1a1a1a" stroke-width="0.4" textLength="13.2" lengthAdjust="spacingAndGlyphs">71</text>
<text x="965.0" y="403.0" font-size="16.5" font-weight="bold" fill="#1a1a1a" stroke="#1a1a1a" stroke-width="0.4" textLength="13.2" lengthAdjust="spacingAndGlyphs">55</text>
<text x="986.8" y="431.8" font-size="16.5" font-weight="bold" fill="#1a1a1a" stroke="#1a1a1a" stroke-width="0.4" textLength="13.2" lengthAdjust="spacingAndGlyphs">60</text>
<text x="1157.0" y="461.3" font-size="16.5" font-weight="bold" fill="#1a1a1a" stroke="#1a1a1a" stroke-width="0.4" textLength="13.2" lengthAdjust="spacingAndGlyphs">99</text>
<text x="1058.8" y="481.3" font-size="16.5" font-weight="bold" fill="#1a1a1a" stroke="#1a1a1a" stroke-width="0.4" textLength="13.2" lengthAdjust="spacingAndGlyphs">76</text>
<text x="1126.3" y="518.3" font-size="16.5" font-weight="bold" fill="#1a1a1a" stroke="#1a1a1a" stroke-width="0.4" textLength="13.2" lengthAdjust="spacingAndGlyphs">92</text>
<text x="952.0" y="547.0" font-size="16.5" font-weight="bold" fill="#1a1a1a" stroke="#1a1a1a" stroke-width="0.4" textLength="13.2" lengthAdjust="spacingAndGlyphs">52</text>
<text x="1011.2" y="575.0" font-size="16.5" font-weight="bold" fill="#1a1a1a" stroke="#1a1a1a" stroke-width="0.4" textLength="13.2" lengthAdjust="spacingAndGlyphs">65</text>
<text x="1061.3" y="603.0" font-size="16.5" font-weight="bold" fill="#1a1a1a" stroke="#1a1a1a" stroke-width="0.4" textLength="13.2" lengthAdjust="spacingAndGlyphs">77</text>
<text x="1036.5" y="631.5" font-size="16.5" font-weight="bold" fill="#1a1a1a" stroke="#1a1a1a" stroke-width="0.4" textLength="13.2" lengthAdjust="spacingAndGlyphs">71</text>
<text x="1124.6" y="650.2" font-size="16.5" font-weight="bold" fill="#1a1a1a" stroke="#1a1a1a" stroke-width="0.4" textLength="13.2" lengthAdjust="spacingAndGlyphs">91</text>
<text x="962.0" y="685.3" font-size="16.5" font-weight="bold" fill="#1a1a1a" stroke="#1a1a1a" stroke-width="0.4" textLength="13.2" lengthAdjust="spacingAndGlyphs">52</text>
<rect x="916" y="733.1" width="6.5" height="8.9" fill="#e36c0e"/>
<text x="925.6" y="743" font-size="16.4" font-weight="bold" fill="#1a1a1a" stroke="#1a1a1a" stroke-width="0.4" textLength="76" lengthAdjust="spacingAndGlyphs">USD (Millions)</text>
<rect x="33.5" y="810.3" width="508" height="64" fill="#fde59b" stroke="#d2d2c2" stroke-width="1.7"/>
<text x="46.25" y="832.4" font-size="18" font-weight="bold" fill="#151515" textLength="47.39" lengthAdjust="spacingAndGlyphs">Total</text>
<text x="97.72" y="832.4" font-size="18" font-weight="bold" fill="#151515" textLength="58.52" lengthAdjust="spacingAndGlyphs">Export</text>
<text x="166.25" y="832.4" font-size="18" font-weight="bold" fill="#151515" textLength="7.01" lengthAdjust="spacingAndGlyphs">–</text>
<text x="178.75" y="832.4" font-size="18" font-weight="bold" fill="#151515" textLength="72.51" lengthAdjust="spacingAndGlyphs">2740739</text>
<text x="259.02" y="832.4" font-size="18" font-weight="bold" fill="#151515" textLength="25.58" lengthAdjust="spacingAndGlyphs">MT</text>
<text x="46.25" y="857.4" font-size="18" font-weight="bold" fill="#151515" textLength="47.39" lengthAdjust="spacingAndGlyphs">Total</text>
<text x="97.72" y="857.4" font-size="18" font-weight="bold" fill="#151515" textLength="58.52" lengthAdjust="spacingAndGlyphs">Export</text>
<text x="162.74" y="857.4" font-size="18" font-weight="bold" fill="#151515" textLength="76.02" lengthAdjust="spacingAndGlyphs">Revenue</text>
<text x="253.20" y="857.4" font-size="18" font-weight="bold" fill="#151515" textLength="5.54" lengthAdjust="spacingAndGlyphs">-</text>
<text x="265.00" y="857.4" font-size="18" font-weight="bold" fill="#151515" textLength="30.51" lengthAdjust="spacingAndGlyphs">861</text>
<text x="301.98" y="857.4" font-size="18" font-weight="bold" fill="#151515" textLength="68.03" lengthAdjust="spacingAndGlyphs">Millions</text>
<text x="376.52" y="857.4" font-size="18" font-weight="bold" fill="#151515" textLength="37.23" lengthAdjust="spacingAndGlyphs">USD</text>
</svg></body></html>
